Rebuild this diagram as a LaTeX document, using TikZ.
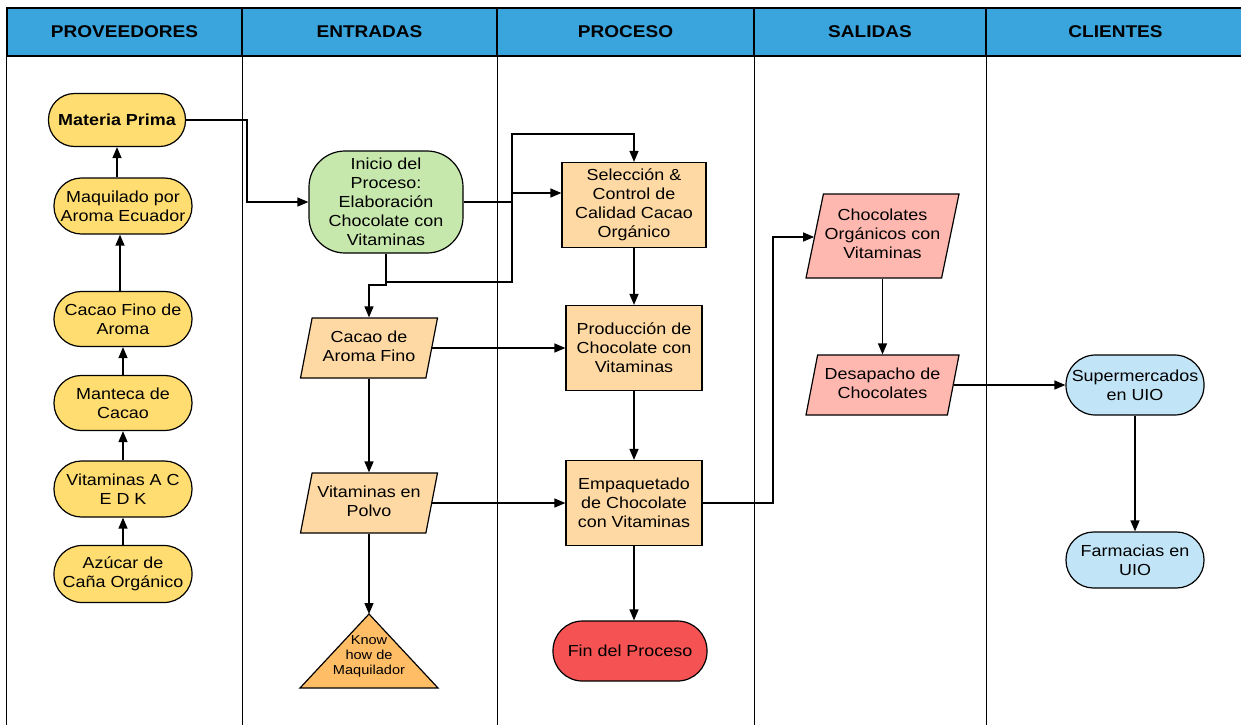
\documentclass[tikz,border=0pt]{standalone}
\usepackage{fontspec}
\setmainfont{Liberation Sans}[FakeStretch=1.12]
\usetikzlibrary{shapes.geometric,arrows.meta,calc}

\definecolor{hdrblue}{RGB}{58,164,221}
\definecolor{supyel}{RGB}{255,221,113}
\definecolor{inigreen}{RGB}{199,232,172}
\definecolor{proorange}{RGB}{255,217,163}
\definecolor{knoworange}{RGB}{255,189,102}
\definecolor{finred}{RGB}{245,83,83}
\definecolor{outpink}{RGB}{255,184,176}
\definecolor{cliblue}{RGB}{194,228,247}

% zero-width text block, so a parallelogram keeps its set width
\newcommand{\ztext}[1]{\makebox[0pt]{\begin{tabular}{@{}c@{}}#1\end{tabular}}}

\begin{document}
\begin{tikzpicture}[x=1pt,y=-1pt,
  every node/.style={font=\fontsize{16}{19}\selectfont},
  ln/.style={line width=1.3pt},
  hdr/.style={draw, line width=1.3pt, fill=hdrblue, minimum height=48, inner sep=0pt,
    font=\fontsize{17}{20}\selectfont\bfseries},
  stad/.style={draw, line width=1.2pt, align=center, inner xsep=2pt, inner ysep=1pt,
    minimum width=138, minimum height=#1, rounded corners={(#1-1)*0.5pt}},
  pbox/.style={draw, line width=1.2pt, align=center, fill=proorange, minimum height=85, inner sep=2pt},
  para/.style={draw, line width=1.2pt, trapezium, trapezium left angle=73,
    trapezium right angle=107, trapezium stretches body, inner sep=0pt, minimum height=#1},
  arr/.style={line width=1.3pt, -{Triangle[length=11pt,width=9pt]}},
]
\useasboundingbox (0,0) rectangle (1241,724);

% swimlane headers
\node[hdr, minimum width=235] (h1) at (124.5,32) {PROVEEDORES};
\node[hdr, minimum width=255] (h2) at (369.5,32) {ENTRADAS};
\node[hdr, minimum width=257] (h3) at (625.5,32) {PROCESO};
\node[hdr, minimum width=232] (h4) at (870,32) {SALIDAS};
\node[hdr, minimum width=259] (h5) at (1115.5,32) {CLIENTES};

% lane borders
\coordinate (bot) at (0,726);
\draw[ln] (h1.south west) -- (h1.south west |- bot);
\foreach \h in {h1,h2,h3,h4}
  \draw[ln] (\h.south east) -- (\h.south east |- bot);

% suppliers
\node[stad=53, fill=supyel, font=\fontsize{16}{19}\selectfont\bfseries, minimum width=137] (mp) at (117,120) {Materia Prima};
\node[stad=56, fill=supyel] (maq) at (123,206) {Maquilado por\\Aroma Ecuador};
\node[stad=55, fill=supyel] (cf) at (123,319) {Cacao Fino de\\Aroma};
\node[stad=55, fill=supyel] (man) at (123,403) {Manteca de\\Cacao};
\node[stad=56, fill=supyel] (vit) at (123,489) {Vitaminas A C\\E D K};
\node[stad=57, fill=supyel] (az) at (123,574) {Azúcar de\\Caña Orgánico};

% inputs
\node[draw, line width=1.2pt, fill=inigreen, align=center, minimum width=154, minimum height=102,
  inner ysep=2pt, rounded corners=36pt] (ini) at (386,202)
  {Inicio del\\Proceso:\\Elaboración\\Chocolate con\\Vitaminas};
\node[para=60, fill=proorange, minimum width=137] (cacao) at (369,348) {\ztext{Cacao de\\Aroma Fino}};
\node[para=60, fill=proorange, minimum width=137] (vpol) at (369,503) {\ztext{Vitaminas en\\Polvo}};
\draw[line width=1.2pt, fill=knoworange] (300,688) -- (369,614) -- (438,688) -- cycle;
\coordinate (kt) at (369,614);
\node[font=\fontsize{13}{15}\selectfont, align=center] (kh) at (369,656) {Know\\how de\\Maquilador};

% process
\node[pbox, minimum width=144] (sel) at (634,205) {Selección \&\\Control de\\Calidad Cacao\\Orgánico};
\node[pbox, minimum width=136] (prod) at (634,348) {Producción de\\Chocolate con\\Vitaminas};
\node[pbox, minimum width=136] (emp) at (634,503) {Empaquetado\\de Chocolate\\con Vitaminas};
\node[stad=60, fill=finred, minimum width=154] (fin) at (630,651) {Fin del Proceso};

% outputs
\node[para=84, fill=outpink, minimum width=153] (choc) at (882.5,236) {\ztext{Chocolates\\Orgánicos con\\Vitaminas}};
\node[para=60, fill=outpink, minimum width=153] (des) at (882.5,385) {\ztext{Desapacho de\\Chocolates}};

% clients
\node[stad=60, fill=cliblue] (sup) at (1135,385) {Supermercados\\en UIO};
\node[stad=56, fill=cliblue] (far) at (1135,560) {Farmacias en\\UIO};

% route points
\coordinate (k1) at (247,202);
\coordinate (k2) at (512,193);
\coordinate (k3) at (512,282);
\coordinate (k4) at (512,134);
\coordinate (k5) at (369,285);
\coordinate (k6) at (773,237);

% supplier chain
\draw[arr] (maq.north -| mp.south) -- (mp.south);
\draw[arr] ([xshift=-3pt]cf.north) -- ([xshift=-3pt]maq.south);
\draw[arr] (man.north) -- (cf.south);
\draw[arr] (vit.north) -- (man.south);
\draw[arr] (az.north) -- (vit.south);

% flow
\draw[arr] (mp.east) -| (k1) -- (ini.west);
\draw[arr] (ini.east) -| (k2) -- (k2 -| sel.west);
\draw[arr] (ini.south) |- (k3) -- (k4) -| (sel.north);
\draw[arr] (ini.south) |- (k5) -- (k5 |- cacao.north);
\draw[arr] (cacao.east) -- (cacao.east -| prod.west);
\draw[arr] (cacao.south) -- (vpol.north);
\draw[arr] (vpol.east) -- (vpol.east -| emp.west);
\draw[arr] (vpol.south) -- (kt);
\draw[arr] (sel.south) -- (prod.north);
\draw[arr] (prod.south) -- (emp.north);
\draw[arr] (emp.south) -- (emp.south |- fin.north);
\draw[arr] (emp.east) -| (k6) -- (k6 -| choc.west);
\draw[arr] (choc.south) -- (des.north);
\draw[arr] (des.east) -- (des.east -| sup.west);
\draw[arr] (sup.south) -- (far.north);
\end{tikzpicture}
\end{document}
